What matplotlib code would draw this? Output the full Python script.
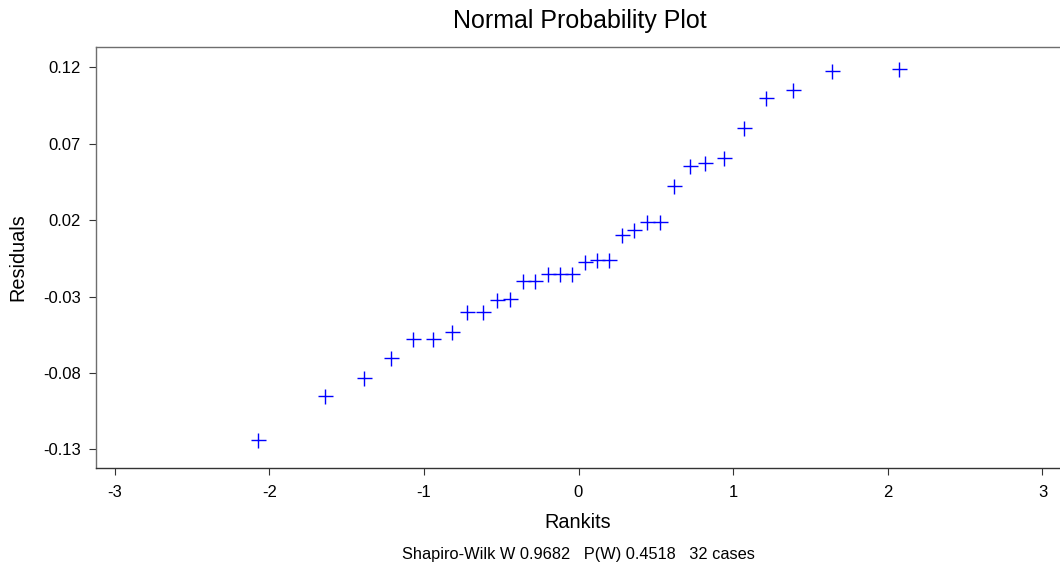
import matplotlib
matplotlib.use("Agg")
import matplotlib.pyplot as plt

# Normal scores (rankits) and ordered residuals for the 32 cases
rankits = [-2.07, -1.64, -1.39, -1.21, -1.07, -0.94, -0.82, -0.72,
           -0.62, -0.53, -0.44, -0.36, -0.28, -0.20, -0.12, -0.04,
           0.04, 0.12, 0.20, 0.28, 0.36, 0.44, 0.53, 0.62,
           0.72, 0.82, 0.94, 1.07, 1.21, 1.39, 1.64, 2.07]
residuals = [-0.124, -0.095, -0.0835, -0.0705, -0.058, -0.058, -0.053, -0.040,
             -0.040, -0.0323, -0.0314, -0.020, -0.020, -0.015, -0.015, -0.015,
             -0.0076, -0.006, -0.006, 0.010, 0.0135, 0.0185, 0.0185, 0.042,
             0.0553, 0.0575, 0.0603, 0.080, 0.100, 0.105, 0.1174, 0.1185]

x_ticks = [-3, -2, -1, 0, 1, 2, 3]
y_ticks = [-0.13, -0.08, -0.03, 0.02, 0.07, 0.12]
y_tick_labels = ["-0.13", "-0.08", "-0.03", "0.02", "0.07", "0.12"]

plt.rcParams["font.family"] = ["Liberation Sans", "DejaVu Sans"]

W, H = 1060, 570
fig = plt.figure(figsize=(W / 100, H / 100), dpi=100)
ax = fig.add_axes([96 / W, 1 - 468 / H, (1061 - 96) / W, (468 - 47) / H])

ax.plot(rankits, residuals, linestyle="none", marker="+", color="#0000ff",
        markersize=10.8, markeredgewidth=1.0)

ax.set_xlim(-3.12, 3.12)
ax.set_ylim(-0.1421, 0.1331)
ax.set_xticks(x_ticks)
ax.set_xticklabels([str(v) for v in x_ticks])
ax.set_yticks(y_ticks)
ax.set_yticklabels(y_tick_labels)

ax.tick_params(axis="both", direction="out", length=5, width=0.8,
               colors="#333333", labelcolor="black", labelsize=12)
ax.tick_params(axis="y", pad=6)
ax.tick_params(axis="x", pad=7)

for side in ("left", "top"):
    ax.spines[side].set_color("#6e6e6e")
    ax.spines[side].set_linewidth(1.0)
ax.spines["bottom"].set_color("#333333")
ax.spines["bottom"].set_linewidth(1.0)
ax.spines["right"].set_visible(False)

fig.text(580 / W, 1 - 21 / H, "Normal Probability Plot", ha="center",
         va="center", fontsize=18)
fig.text(578 / W, 1 - 522 / H, "Rankits", ha="center", va="center",
         fontsize=14.3)
fig.text(18 / W, 1 - 257 / H, "Residuals", ha="center", va="center",
         rotation=90, fontsize=14.3)
fig.text(578 / W, 1 - 555 / H,
         "Shapiro-Wilk W 0.9682   P(W) 0.4518   32 cases",
         ha="center", va="center", fontsize=11.8)

fig.savefig("out.png", dpi=100)
